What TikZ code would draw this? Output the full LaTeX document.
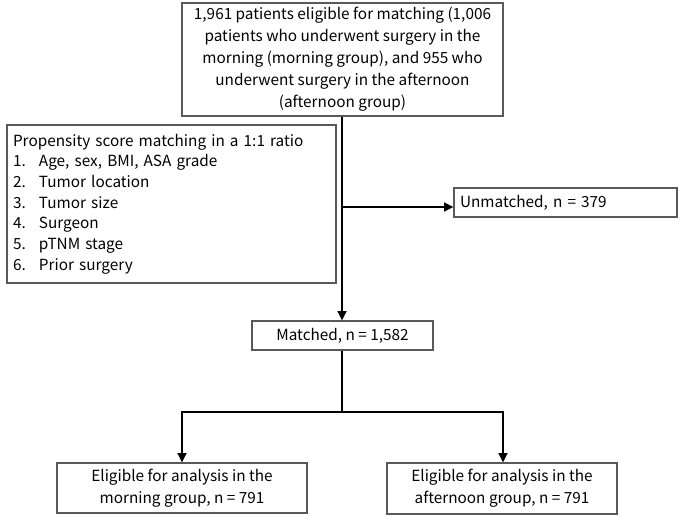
\documentclass[tikz,border=0pt]{standalone}
\usepackage{fontspec}
\setmainfont{Noto Sans CJK JP}
\usetikzlibrary{arrows.meta}
\begin{document}
\begin{tikzpicture}[x=0.75pt,y=-0.75pt,
  box/.style={draw=black!65, line width=0.8pt, inner sep=0pt, font=\fontsize{11.5}{16.5}\selectfont},
  conn/.style={line width=2.1pt, black},
  arr/.style={conn, -{Triangle[length=7pt,width=6.5pt]}}]
\useasboundingbox (0,0) rectangle (685,519);
\node[box, minimum width=321*0.75pt, minimum height=113*0.75pt, align=center] (top) at (342.5,59.5)
  {1,961 patients eligible for matching (1,006\\patients who underwent surgery in the\\morning (morning group), and 955 who\\underwent surgery in the afternoon\\(afternoon group)};
\node[box, minimum width=329*0.75pt, minimum height=158*0.75pt, align=left, text width=317*0.75pt, font=\fontsize{11.5}{15.5}\selectfont] (psm) at (171.5,204)
  {Propensity score matching in a 1:1 ratio\\
   \makebox[19.5pt][l]{1.}Age, sex, BMI, ASA grade\\
   \makebox[19.5pt][l]{2.}Tumor location\\
   \makebox[19.5pt][l]{3.}Tumor size\\
   \makebox[19.5pt][l]{4.}Surgeon\\
   \makebox[19.5pt][l]{5.}pTNM stage\\
   \makebox[19.5pt][l]{6.}Prior surgery};
\node[box, minimum width=223*0.75pt, minimum height=29*0.75pt, align=left, text width=211*0.75pt] (unm) at (565.5,202.5) {Unmatched, n = 379};
\node[box, minimum width=181*0.75pt, minimum height=29*0.75pt, align=center] (mat) at (342.5,335.5) {Matched, n = 1,582};
\node[box, minimum width=250*0.75pt, minimum height=50*0.75pt, align=center] (morn) at (182,488) {Eligible for analysis in the\\morning group, n = 791};
\node[box, minimum width=230*0.75pt, minimum height=51*0.75pt, align=center] (aft) at (502,488.5) {Eligible for analysis in the\\afternoon group, n = 791};
\coordinate (br) at (342,207);
\coordinate (split) at (342,412);
\draw[arr] (top.south -| br) -- (mat.north -| br);
\draw[arr] (br) -- (br -| unm.west);
\draw[conn] (mat.south -| split) -- (split);
\draw[arr] (split) -| (morn.north);
\draw[arr] (split) -| ([xshift=0.75pt]aft.north);
\end{tikzpicture}
\end{document}
